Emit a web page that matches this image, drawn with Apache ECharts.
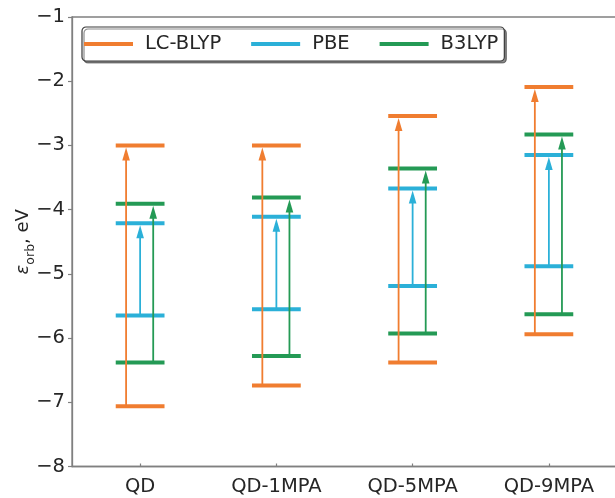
<!DOCTYPE html>
<html><head><meta charset="utf-8">
<script src="https://cdn.jsdelivr.net/npm/echarts@6/dist/echarts.min.js"></script>
<style>html,body{margin:0;padding:0;background:#fff}#c{width:615px;height:498px}</style>
</head><body><div id="c"></div>
<script>
const categories = ['QD', 'QD-1MPA', 'QD-5MPA', 'QD-9MPA'];
const lcLower  = [-7.06, -6.74, -6.38, -5.94];
const lcUpper  = [-3.00, -3.00, -2.54, -2.09];
const pbeLower = [-5.65, -5.55, -5.19, -4.88];
const pbeUpper = [-4.21, -4.11, -3.67, -3.15];
const b3Lower  = [-6.38, -6.28, -5.93, -5.63];
const b3Upper  = [-3.91, -3.81, -3.36, -2.83];
const yTicks = [-8, -7, -6, -5, -4, -3, -2, -1];

const methods = [
  {name: 'LC-BLYP', lo: lcLower, hi: lcUpper, color: '#f07d30', off: -0.103},
  {name: 'PBE', lo: pbeLower, hi: pbeUpper, color: '#2bb0d8', off: 0},
  {name: 'B3LYP', lo: b3Lower, hi: b3Upper, color: '#249a55', off: 0.096}
];

function levelsRender(color) {
  return function (params, api) {
    const i = api.value(0);
    const lo = api.coord([i, api.value(1)]);
    const hi = api.coord([i, api.value(2)]);
    const bw = api.size([1, 0])[0];
    const hw = bw * 0.179;
    return {type: 'group', children: [
      {type: 'line', shape: {x1: lo[0] - hw, y1: lo[1], x2: lo[0] + hw, y2: lo[1]}, style: {stroke: color, lineWidth: 4}},
      {type: 'line', shape: {x1: hi[0] - hw, y1: hi[1], x2: hi[0] + hw, y2: hi[1]}, style: {stroke: color, lineWidth: 4}}
    ]};
  };
}
function arrowRender(color, off) {
  return function (params, api) {
    const i = api.value(0);
    const lo = api.coord([i, api.value(1)]);
    const hi = api.coord([i, api.value(2)]);
    const bw = api.size([1, 0])[0];
    const x = lo[0] + off * bw;
    const tip = hi[1] + 2, hl = 13, hw = 3.8;
    return {type: 'group', children: [
      {type: 'line', shape: {x1: x, y1: lo[1], x2: x, y2: tip + hl - 1}, style: {stroke: color, lineWidth: 1.8}},
      {type: 'polygon', shape: {points: [[x, tip], [x - hw, tip + hl], [x + hw, tip + hl]]}, style: {fill: color}}
    ]};
  };
}

const series = [];
methods.forEach(m => {
  const data = categories.map((c, i) => [i, m.lo[i], m.hi[i]]);
  series.push({type: 'custom', name: m.name, renderItem: levelsRender(m.color), data: data,
    encode: {x: 0, y: [1, 2]}, itemStyle: {color: m.color}, z: 2, silent: true});
});
methods.forEach(m => {
  const data = categories.map((c, i) => [i, m.lo[i], m.hi[i]]);
  series.push({type: 'custom', name: m.name, renderItem: arrowRender(m.color, m.off), data: data,
    encode: {x: 0, y: [1, 2]}, itemStyle: {color: m.color}, z: 3, silent: true});
});

const axisColor = '#808080';
const txt = '#262626';
const font = 'DejaVu Sans';
const fs = 19.5;
const chart = echarts.init(document.getElementById('c'), null, {renderer: 'canvas'});
chart.setOption({
  animation: false,
  backgroundColor: '#fff',
  textStyle: {fontFamily: font},
  grid: {left: 72, top: 17, right: -2, bottom: 31.5, containLabel: false, outerBoundsMode: 'none',
    show: true, borderColor: axisColor, borderWidth: 1.3, backgroundColor: 'transparent'},
  legend: {
    data: methods.map(m => ({name: m.name, icon: 'rect'})),
    left: 82, top: 27, orient: 'horizontal',
    itemWidth: 49, itemHeight: 4, itemGap: 30,
    padding: [7, 6, 7, 2],
    borderColor: '#3a3a3a', borderWidth: 1.2, borderRadius: 4,
    backgroundColor: '#fff',
    shadowColor: 'rgba(0,0,0,0.45)', shadowOffsetX: 2, shadowOffsetY: 2, shadowBlur: 0,
    selectedMode: false,
    textStyle: {fontFamily: font, fontSize: fs, color: txt, padding: [0, 0, 0, 7]}
  },
  xAxis: {
    type: 'category', data: categories, boundaryGap: true,
    axisLine: {show: true, lineStyle: {color: axisColor, width: 1.3}},
    axisTick: {show: true, alignWithLabel: true, inside: true, length: 3, lineStyle: {color: axisColor, width: 1.2}},
    axisLabel: {fontFamily: font, fontSize: fs, color: txt, margin: 10, interval: 0},
    splitLine: {show: false}
  },
  yAxis: {
    type: 'value', min: -8, max: -1, interval: 1,
    name: '{e|ε}{s|orb}{n|, eV}', nameLocation: 'middle', nameRotate: 90, nameGap: 40,
    nameMoveOverlap: false,
    nameTextStyle: {rich: {
      e: {fontFamily: font, fontStyle: 'italic', fontSize: 18, color: txt, verticalAlign: 'bottom', lineHeight: 22},
      s: {fontFamily: font, fontSize: 12.5, color: txt, verticalAlign: 'bottom', padding: [0, 0, -5, 0], lineHeight: 22},
      n: {fontFamily: font, fontSize: 18, color: txt, verticalAlign: 'bottom', lineHeight: 22}
    }},
    axisLine: {show: true, lineStyle: {color: axisColor, width: 1.3}},
    axisTick: {show: true, inside: false, length: 4, lineStyle: {color: axisColor, width: 1.2}},
    axisLabel: {fontFamily: font, fontSize: fs, color: txt, margin: 7,
      customValues: yTicks,
      formatter: v => (v < 0 ? '\u2212' : '') + Math.abs(v)},
    splitLine: {show: false}
  },
  series: series
});
</script></body></html>
